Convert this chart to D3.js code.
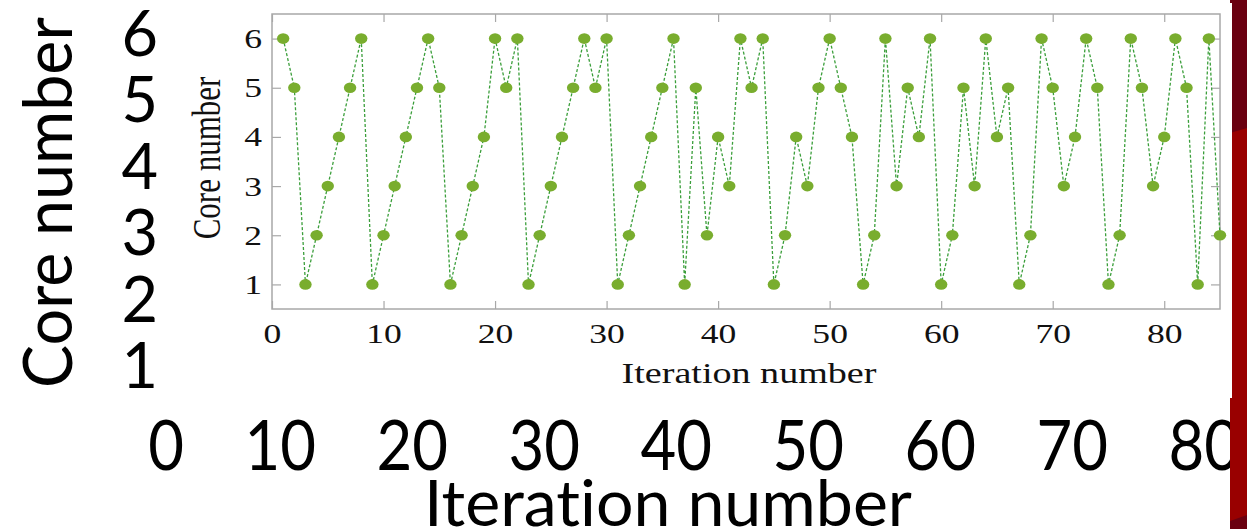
<!DOCTYPE html>
<html>
<head>
<meta charset="utf-8">
<script src="https://cdn.jsdelivr.net/npm/d3@7"></script>
<style>
  body { margin: 0; background: #fff; }
  svg { display: block; }
  text { font-variant-ligatures: none; }
</style>
</head>
<body>
<svg id="chart"></svg>
<script>

// core number picked at each iteration (iteration = index + 1)
const coreNumbers = [
  6, 5, 1, 2, 3, 4, 5, 6, 1, 2,
  3, 4, 5, 6, 5, 1, 2, 3, 4, 6,
  5, 6, 1, 2, 3, 4, 5, 6, 5, 6,
  1, 2, 3, 4, 5, 6, 1, 5, 2, 4,
  3, 6, 5, 6, 1, 2, 4, 3, 5, 6,
  5, 4, 1, 2, 6, 3, 5, 4, 6, 1,
  2, 5, 3, 6, 4, 5, 1, 2, 6, 5,
  3, 4, 6, 5, 1, 2, 6, 5, 3, 4,
  6, 5, 1, 6, 2
];
const xTicks = [0, 10, 20, 30, 40, 50, 60, 70, 80];
const yTicks = [1, 2, 3, 4, 5, 6];
const bigXLabels = ['0', '10', '20', '30', '40', '50', '60', '70', '80'];
const bigYLabels = ['1', '2', '3', '4', '5', '6'];

const width = 1247;
const height = 529;
const stretch = 1.27;   // the pasted chart picture is wider than tall

const svg = d3.select('#chart')
  .attr('width', width)
  .attr('height', height)

const plot = { left: 272, right: 1220, top: 14, bottom: 309 };

const x = d3.scaleLinear().domain([0, 85]).range([plot.left, plot.right]);
const y = d3.scaleLinear().domain([0.5, 6.5]).range([plot.bottom, plot.top]);

const points = coreNumbers.map((v, i) => ({ it: i + 1, core: v }));

const g = svg.append('g');

// axes, ticks inside on all four sides
const tickColor = '#a8a8a8';
const fmt = d3.format('d');

const xAxisBottom = g.append('g')
  .attr('transform', `translate(0,${plot.bottom})`)
  .call(d3.axisBottom(x).tickValues(xTicks).tickSize(-8).tickSizeOuter(0).tickFormat(fmt));
g.append('g')
  .attr('transform', `translate(0,${plot.top})`)
  .call(d3.axisTop(x).tickValues(xTicks).tickSize(-8).tickSizeOuter(0).tickFormat(''));
const yAxisLeft = g.append('g')
  .attr('transform', `translate(${plot.left},0)`)
  .call(d3.axisLeft(y).tickValues(yTicks).tickSize(-9).tickSizeOuter(0).tickFormat(fmt));
g.append('g')
  .attr('transform', `translate(${plot.right},0)`)
  .call(d3.axisRight(y).tickValues(yTicks).tickSize(-9).tickSizeOuter(0).tickFormat(''));

g.selectAll('.domain').remove();
g.selectAll('.tick line').attr('stroke', tickColor).attr('stroke-width', 1.2);

xAxisBottom.selectAll('text')
  .attr('x', 0)
  .attr('y', 34)
  .attr('dy', null)
  .attr('transform', `scale(${stretch},1)`)
  .style('font-family', '"Liberation Serif", "Times New Roman", serif')
  .style('font-size', '28px')
  .attr('fill', '#111');

yAxisLeft.selectAll('text')
  .attr('x', -10 / stretch)
  .attr('y', 9)
  .attr('dy', null)
  .attr('transform', `scale(${stretch},1)`)
  .style('font-family', '"Liberation Serif", "Times New Roman", serif')
  .style('font-size', '28px')
  .attr('fill', '#111');

g.append('rect')
  .attr('x', plot.left)
  .attr('y', plot.top)
  .attr('width', plot.right - plot.left)
  .attr('height', plot.bottom - plot.top)
  .attr('fill', 'none')
  .attr('stroke', tickColor)
  .attr('stroke-width', 1.5);

// small axis titles of the pasted chart
g.append('text')
  .attr('transform', `translate(749,383) scale(${stretch},1)`)
  .attr('text-anchor', 'middle')
  .style('font-family', '"Liberation Serif", "Times New Roman", serif')
  .style('font-size', '30px')
  .attr('fill', '#111')
  .text('Iteration number');

g.append('text')
  .attr('transform', `translate(220,158) scale(${stretch},1) rotate(-90)`)
  .attr('text-anchor', 'middle')
  .style('font-family', '"Liberation Serif", "Times New Roman", serif')
  .style('font-size', '31px')
  .attr('fill', '#111')
  .text('Core number');

// dashed line and dots
const line = d3.line()
  .x(d => x(d.it))
  .y(d => y(d.core));

g.append('path')
  .datum(points)
  .attr('d', line)
  .attr('fill', 'none')
  .attr('stroke', '#3a9e3a')
  .attr('stroke-width', 1.3)
  .attr('stroke-dasharray', '3,2');

g.selectAll('.dot')
  .data(points)
  .enter().append('ellipse')
    .attr('class', 'dot')
    .attr('cx', d => x(d.it))
    .attr('cy', d => y(d.core))
    .attr('rx', 6.2)
    .attr('ry', 5.3)
    .attr('fill', '#79ad2e');

// large slide labels laid over the picture
const xBig = d3.scaleLinear().domain([0, 80]).range([184, 1240]);
const yBig = d3.scaleLinear().domain([1, 6]).range([388, 55.5]);

svg.selectAll('.bigx')
  .data(bigXLabels)
  .enter().append('text')
    .attr('class', 'bigx')
    .attr('transform', (d, i) => `translate(${xBig(xTicks[i])},470) scale(0.88,1)`)
    .attr('text-anchor', 'end')
    .style('font-family', 'Lato, "Open Sans", sans-serif')
    .style('font-size', '70px')
    .attr('fill', '#000')
    .text(d => d);

svg.selectAll('.bigy')
  .data(bigYLabels)
  .enter().append('text')
    .attr('class', 'bigy')
    .attr('x', 158)
    .attr('y', (d, i) => yBig(yTicks[i]))
    .attr('text-anchor', 'end')
    .style('font-family', 'Lato, "Open Sans", sans-serif')
    .style('font-size', '63px')
    .attr('fill', '#000')
    .text(d => d);

svg.append('text')
  .attr('x', 424)
  .attr('y', 526)
  .attr('textLength', 488)
  .attr('lengthAdjust', 'spacingAndGlyphs')
  .style('font-family', 'Lato, "Open Sans", sans-serif')
  .style('font-size', '64px')
  .attr('fill', '#000')
  .text('Iteration number');

svg.append('text')
  .attr('transform', 'translate(72,202.5) rotate(-90)')
  .attr('text-anchor', 'middle')
  .attr('textLength', 371)
  .attr('lengthAdjust', 'spacingAndGlyphs')
  .style('font-family', 'Lato, "Open Sans", sans-serif')
  .style('font-size', '67px')
  .attr('fill', '#000')
  .text('Core number');

// slide's red side bar
svg.append('rect')
  .attr('x', 1230).attr('y', 0)
  .attr('width', width - 1230).attr('height', height)
  .attr('fill', '#990000');
svg.append('path')
  .attr('d', 'M1230,0H1247V128L1230,133Z')
  .attr('fill', '#6a0010');
svg.append('path')
  .attr('d', 'M1230,521L1247,515V529H1230Z')
  .attr('fill', '#6a0010');
svg.append('rect')
  .attr('x', 1230).attr('y', 3)
  .attr('width', 2).attr('height', 395)
  .attr('fill', '#fff');

</script>
</body>
</html>
